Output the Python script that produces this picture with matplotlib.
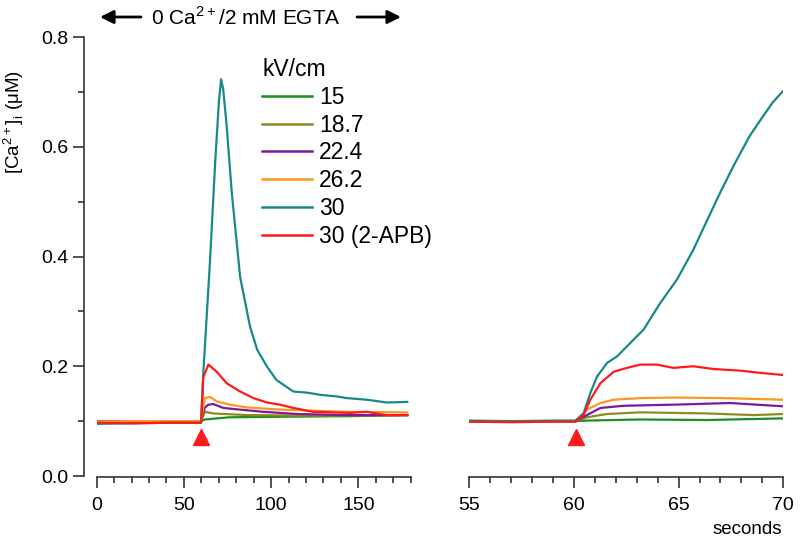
import matplotlib
matplotlib.use("Agg")
import matplotlib.pyplot as plt
from matplotlib.ticker import MultipleLocator

plt.rcParams["font.family"] = ["Liberation Sans", "DejaVu Sans"]
plt.rcParams["mathtext.fontset"] = "custom"
plt.rcParams["mathtext.rm"] = "Liberation Sans"

labels = ["15", "18.7", "22.4", "26.2", "30", "30 (2-APB)"]
colors = ["#1e8c1e", "#8c8c1e", "#7d1a9a", "#ff961e", "#17898a", "#ff1a1a"]

# left panel: full recording (s, uM)
t_left = [
    [0, 20, 40, 59.8, 62, 76, 105, 143, 178],
    [0, 20, 40, 59.8, 62, 66.9, 86, 124, 178],
    [0, 20, 40, 59.8, 62, 64, 66.9, 72.6, 82, 95.5, 114.7, 143, 178],
    [0, 20, 40, 59.8, 62, 65, 68.8, 76.4, 86, 105, 124, 143, 178],
    [0, 20, 40, 59.8, 61.1, 65, 68, 70, 71.3, 72.5, 74.5, 77.4, 82.2, 87.9,
     92, 97.5, 103, 112.7, 120.4, 128, 137.6, 143.3, 154.8, 166.3, 178],
    [0, 20, 40, 59.8, 61.1, 64, 68.8, 74.5, 82.2, 89.8, 97.5, 105, 112.7,
     124, 135.6, 145, 154.8, 166, 178],
]
y_left = [
    [0.100, 0.100, 0.100, 0.100, 0.103, 0.107, 0.108, 0.109, 0.111],
    [0.100, 0.100, 0.100, 0.100, 0.117, 0.114, 0.111, 0.110, 0.111],
    [0.099, 0.100, 0.100, 0.100, 0.125, 0.130, 0.131, 0.124, 0.121, 0.117,
     0.113, 0.111, 0.111],
    [0.099, 0.100, 0.100, 0.100, 0.142, 0.144, 0.136, 0.130, 0.125, 0.121,
     0.119, 0.117, 0.116],
    [0.095, 0.096, 0.097, 0.097, 0.188, 0.395, 0.577, 0.680, 0.723, 0.705,
     0.638, 0.517, 0.363, 0.272, 0.230, 0.200, 0.175, 0.154, 0.152, 0.148,
     0.145, 0.142, 0.139, 0.134, 0.135],
    [0.097, 0.096, 0.097, 0.097, 0.180, 0.203, 0.190, 0.169, 0.154, 0.142,
     0.134, 0.130, 0.124, 0.117, 0.116, 0.115, 0.117, 0.111, 0.111],
]

# right panel: zoom on stimulus onset
t_right = [
    [55, 57, 59, 60.07, 60.62, 63.17, 66.35, 70],
    [55, 57, 59, 60.07, 60.62, 61.58, 63.17, 66.35, 68.6, 70],
    [55, 57, 59, 60.07, 60.62, 61.26, 62.37, 64.76, 67.46, 70],
    [55, 57, 59, 60.07, 60.62, 61.26, 61.9, 63.17, 64.76, 67.1, 70],
    [55, 57, 59, 60.07, 60.46, 60.78, 61.1, 61.58, 62.06, 62.37, 63.33,
     64.12, 64.92, 65.7, 66.35, 66.98, 67.62, 68.4, 69.04, 69.5, 70],
    [55, 57, 59, 60.07, 60.46, 60.78, 61.26, 61.9, 62.53, 63.17, 63.96,
     64.76, 65.7, 66.66, 67.94, 68.9, 70],
]
y_right = [
    [0.100, 0.100, 0.100, 0.100, 0.101, 0.103, 0.102, 0.105],
    [0.100, 0.100, 0.100, 0.100, 0.107, 0.113, 0.116, 0.114, 0.111, 0.113],
    [0.100, 0.100, 0.100, 0.100, 0.111, 0.124, 0.128, 0.130, 0.133, 0.127],
    [0.100, 0.100, 0.100, 0.100, 0.121, 0.133, 0.139, 0.142, 0.143, 0.142,
     0.139],
    [0.101, 0.100, 0.101, 0.101, 0.114, 0.151, 0.181, 0.206, 0.218, 0.230,
     0.267, 0.315, 0.358, 0.412, 0.465, 0.516, 0.565, 0.620, 0.656, 0.681,
     0.702],
    [0.099, 0.098, 0.099, 0.099, 0.111, 0.139, 0.169, 0.190, 0.197, 0.203,
     0.203, 0.197, 0.200, 0.195, 0.192, 0.188, 0.184],
]

stim_t = [60, 60.1]
stim_y = 0.071

fig = plt.figure(figsize=(8, 5.45), dpi=100)
ax1 = fig.add_axes([0.1209, 0.1266, 0.3925, 0.8055])
ax2 = fig.add_axes([0.5866, 0.1266, 0.3925, 0.8055])

axis_col = "#333333"
for ax, ts, ys, st in [(ax1, t_left, y_left, stim_t[0]),
                       (ax2, t_right, y_right, stim_t[1])]:
    for t, y, c, lab in zip(ts, ys, colors, labels):
        ax.plot(t, y, color=c, lw=1.6, label=lab)
    ax.plot([st], [stim_y], marker="^", color="#ff1a1a", ms=12, ls="none")
    ax.set_ylim(0, 0.8)
    for s in ["top", "right"]:
        ax.spines[s].set_visible(False)
    ax.spines["bottom"].set_position(("outward", 1))
    ax.spines["bottom"].set_color(axis_col)
    ax.spines["bottom"].set_linewidth(1.2)
    ax.tick_params(axis="x", which="major", length=8, width=1.2,
                   color=axis_col, labelsize=14, pad=6)
    ax.tick_params(axis="x", which="minor", length=4.5, width=1.2,
                   color=axis_col)

ax1.set_xlim(0, 180)
ax1.xaxis.set_major_locator(MultipleLocator(50))
ax1.xaxis.set_minor_locator(MultipleLocator(10))
ax1.spines["left"].set_position(("outward", 9.4))
ax1.spines["left"].set_color(axis_col)
ax1.spines["left"].set_linewidth(1.2)
ax1.yaxis.set_major_locator(MultipleLocator(0.2))
ax1.yaxis.set_minor_locator(MultipleLocator(0.1))
ax1.yaxis.set_major_formatter(lambda v, p: f"{v:.1f}")
ax1.tick_params(axis="y", which="major", length=8, width=1.2,
                color=axis_col, labelsize=14, pad=3)
ax1.tick_params(axis="y", which="minor", length=4.5, width=1.2,
                color=axis_col)
ax1.set_ylabel(r"[Ca$^{2+}$]$_{\rm i}$ (μM)", fontsize=13.5)
ax1.yaxis.set_label_coords(-0.225, 0.806)

ax2.set_xlim(55, 70)
ax2.xaxis.set_major_locator(MultipleLocator(5))
ax2.xaxis.set_minor_locator(MultipleLocator(1))
ax2.spines["left"].set_visible(False)
ax2.set_yticks([])
fig.text(782 / 800, 1 - 529 / 545, "seconds", ha="right", va="center",
         fontsize=13.5)

leg = ax1.legend(title="kV/cm", loc="upper left", frameon=False,
                 bbox_to_anchor=(262 / 800, 1 - 58 / 545),
                 bbox_transform=fig.transFigure, fontsize=16.5,
                 title_fontsize=16.5, alignment="left", handlelength=2.2,
                 handletextpad=0.3, labelspacing=0.21, borderpad=0,
                 borderaxespad=0)
for h in leg.get_lines():
    h.set_linewidth(1.8)

# header: solution condition
fig.text(246 / 800, 1 - 18 / 545, r"0 Ca$^{2+}$/2 mM EGTA", ha="center",
         va="center", fontsize=15)
arrow = dict(arrowstyle="-|>", color="black", lw=2, mutation_scale=20,
             shrinkA=0, shrinkB=0)
fig.add_artist(plt.Annotation("", xy=(100 / 800, 1 - 17 / 545),
                              xytext=(141 / 800, 1 - 17 / 545),
                              xycoords="figure fraction", arrowprops=arrow))
fig.add_artist(plt.Annotation("", xy=(401 / 800, 1 - 17 / 545),
                              xytext=(357 / 800, 1 - 17 / 545),
                              xycoords="figure fraction", arrowprops=arrow))

fig.savefig("out.png", dpi=100)
